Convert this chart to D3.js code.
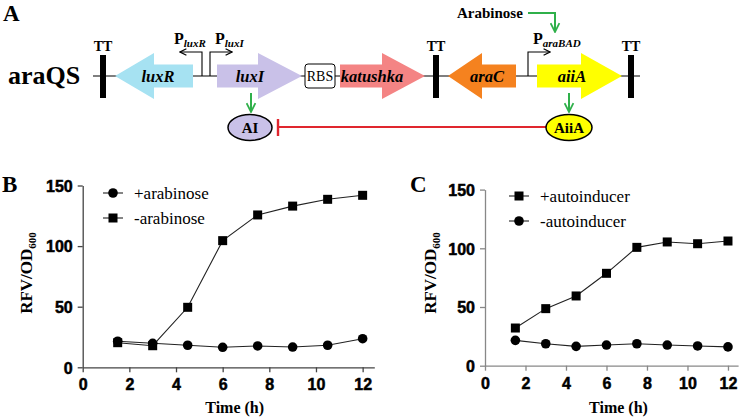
<!DOCTYPE html>
<html>
<head>
<meta charset="utf-8">
<script src="https://cdn.jsdelivr.net/npm/d3@7"></script>
<style>
  body { margin: 0; background: #fff; }
  svg { display: block; }
</style>
</head>
<body>
<div id="fig"></div>
<script>
// data
var times = [1.5, 3, 4.5, 6, 7.5, 9, 10.5, 12];
var plusArabinose = [21.5, 19.8, 18.2, 16.5, 17.6, 16.7, 18.2, 23.6];
var minusArabinose = [20.3, 17.8, 49.5, 104.5, 125.7, 133, 138.6, 141.9];
var plusAutoinducer = [32.1, 48.6, 59.4, 78.7, 100.8, 105.4, 103.9, 106.2];
var minusAutoinducer = [21.6, 18.7, 16.5, 17.6, 18.7, 17.6, 16.8, 16.0];
var xTicks = [0, 2, 4, 6, 8, 10, 12];
var yTicks = [0, 50, 100, 150];

var serif = "'Liberation Serif', 'Times New Roman', serif";
var sans = "'Liberation Sans', Arial, sans-serif";
var green = "#2fb04a";
var red = "#e0262e";

var svg = d3.select("#fig").append("svg")
  .attr("width", 750)
  .attr("height", 417);

// ---------- panel A: construct diagram ----------
var gA = svg.append("g");
var midY = 76;

gA.append("text").attr("x", 3).attr("y", 21)
  .style("font-family", serif).style("font-weight", "bold").style("font-size", "23px")
  .text("A");

gA.append("text").attr("x", 8).attr("y", 84)
  .style("font-family", serif).style("font-weight", "bold").style("font-size", "26px")
  .text("araQS");

// backbone
gA.append("line").attr("x1", 93).attr("x2", 640).attr("y1", midY).attr("y2", midY)
  .attr("stroke", "#000").attr("stroke-width", 1.2);

function genePath(tail, tip, headBase) {
  var p = d3.path();
  p.moveTo(tail, midY - 11.5);
  p.lineTo(headBase, midY - 11.5);
  p.lineTo(headBase, midY - 23);
  p.lineTo(tip, midY);
  p.lineTo(headBase, midY + 23);
  p.lineTo(headBase, midY + 11.5);
  p.lineTo(tail, midY + 11.5);
  p.closePath();
  return p.toString();
}

var genes = [
  {name: "luxR", tail: 193, tip: 115, head: 154, fill: "#a6e2f2", tx: 158},
  {name: "luxI", tail: 217, tip: 302, head: 258, fill: "#c9c1e8", tx: 250},
  {name: "katushka", tail: 340, tip: 425, head: 382, fill: "#f48484", tx: 372},
  {name: "araC", tail: 516, tip: 448, head: 482, fill: "#f5821f", tx: 487},
  {name: "aiiA", tail: 537, tip: 622, head: 581, fill: "#ffff00", tx: 572}
];

gA.selectAll("path.gene").data(genes).enter().append("path")
  .attr("class", "gene")
  .attr("d", function(d) { return genePath(d.tail, d.tip, d.head); })
  .attr("fill", function(d) { return d.fill; });

gA.selectAll("text.gene").data(genes).enter().append("text")
  .attr("class", "gene")
  .attr("x", function(d) { return d.tx; })
  .attr("y", midY + 5.5)
  .attr("text-anchor", "middle")
  .style("font-family", serif).style("font-weight", "bold").style("font-style", "italic")
  .style("font-size", "16.5px")
  .text(function(d) { return d.name; });

// RBS box
gA.append("rect").attr("x", 305).attr("y", 64).attr("width", 30).attr("height", 24)
  .attr("rx", 3).attr("fill", "#fff").attr("stroke", "#000").attr("stroke-width", 1);
gA.append("text").attr("x", 320).attr("y", 81).attr("text-anchor", "middle")
  .style("font-family", serif).style("font-size", "14px").text("RBS");

// terminators
[103, 436, 631].forEach(function(x) {
  gA.append("rect").attr("x", x - 3).attr("y", 55).attr("width", 6).attr("height", 43).attr("fill", "#000");
  gA.append("text").attr("x", x).attr("y", 51).attr("text-anchor", "middle")
    .style("font-family", serif).style("font-weight", "bold").style("font-size", "14px").text("TT");
});

// promoters
var defs = svg.append("defs");
function marker(id, color, w) {
  defs.append("marker").attr("id", id)
    .attr("viewBox", "0 0 10 10").attr("refX", 9).attr("refY", 5)
    .attr("markerWidth", w).attr("markerHeight", w).attr("orient", "auto")
    .attr("markerUnits", "userSpaceOnUse")
    .append("path").attr("d", "M1,1 L9,5 L1,9")
    .attr("fill", "none").attr("stroke", color).attr("stroke-width", 1.6);
}
marker("blk", "#000", 8);
marker("grn", green, 11);

var promoters = [
  {x: 202, dir: -1, len: 22, label: "luxR", lx: 174},
  {x: 210, dir: 1, len: 22, label: "luxI", lx: 215},
  {x: 528, dir: 1, len: 22, label: "araBAD", lx: 533}
];
promoters.forEach(function(p) {
  gA.append("path")
    .attr("d", "M" + p.x + "," + midY + " V52 H" + (p.x + p.dir * p.len))
    .attr("fill", "none").attr("stroke", "#000").attr("stroke-width", 1.1)
    .attr("marker-end", "url(#blk)");
  var t = gA.append("text").attr("x", p.lx).attr("y", 44)
    .style("font-family", serif).style("font-weight", "bold").style("font-size", "16px");
  t.append("tspan").text("P");
  t.append("tspan").attr("dy", 3).style("font-size", "11px").style("font-style", "italic").text(p.label);
});

// arabinose induction
gA.append("text").attr("x", 457).attr("y", 18)
  .style("font-family", serif).style("font-weight", "bold").style("font-size", "15px").text("Arabinose");
gA.append("path").attr("d", "M528,13 H555 V32")
  .attr("fill", "none").attr("stroke", green).attr("stroke-width", 2)
  .attr("marker-end", "url(#grn)");

// expression arrows
[{x: 251}, {x: 569}].forEach(function(a) {
  gA.append("line").attr("x1", a.x).attr("x2", a.x).attr("y1", 93).attr("y2", 112)
    .attr("stroke", green).attr("stroke-width", 2).attr("marker-end", "url(#grn)");
});

// inhibition
gA.append("line").attr("x1", 278).attr("x2", 546).attr("y1", 127).attr("y2", 127)
  .attr("stroke", red).attr("stroke-width", 2);
gA.append("line").attr("x1", 278).attr("x2", 278).attr("y1", 119).attr("y2", 136)
  .attr("stroke", red).attr("stroke-width", 2.4);

var proteins = [
  {name: "AI", cx: 250, rx: 22, fill: "#c9c1e8"},
  {name: "AiiA", cx: 569, rx: 23, fill: "#ffff00"}
];
proteins.forEach(function(p) {
  gA.append("ellipse").attr("cx", p.cx).attr("cy", 127.5).attr("rx", p.rx).attr("ry", 13)
    .attr("fill", p.fill).attr("stroke", "#000").attr("stroke-width", 1.5);
  gA.append("text").attr("x", p.cx).attr("y", 132.5).attr("text-anchor", "middle")
    .style("font-family", serif).style("font-weight", "bold").style("font-size", "15px").text(p.name);
});

// ---------- panels B and C: time courses ----------
function drawPanel(cfg) {
  var g = svg.append("g");
  var x = d3.scaleLinear().domain([0, 12.5]).range(cfg.xr);
  var y = d3.scaleLinear().domain([0, 150]).range(cfg.yr);

  g.append("text").attr("x", cfg.labelX).attr("y", 192)
    .style("font-family", serif).style("font-weight", "bold").style("font-size", "23px")
    .text(cfg.label);

  var xAxis = g.append("g").attr("transform", "translate(0," + cfg.yr[0] + ")")
    .call(d3.axisBottom(x).tickValues(xTicks).tickSize(5).tickPadding(6).tickSizeOuter(0));
  var yAxis = g.append("g").attr("transform", "translate(" + cfg.xr[0] + ",0)")
    .call(d3.axisLeft(y).tickValues(yTicks).tickSize(5).tickPadding(5).tickSizeOuter(0));
  [xAxis, yAxis].forEach(function(a) {
    a.select(".domain").attr("stroke", cfg.axisColor).attr("stroke-width", 1.3);
    a.selectAll(".tick line").attr("stroke", cfg.axisColor).attr("stroke-width", 1.3);
    // heavy bold digits like the original
    a.selectAll(".tick text").attr("fill", "#000")
      .attr("stroke", "#000").attr("stroke-width", 0.5)
      .style("font-family", sans).style("font-weight", "bold").style("font-size", "16px");
  });
  yAxis.selectAll(".tick text").attr("dy", "0.36em");
  xAxis.selectAll(".tick text").attr("dy", "0.76em");

  var yt = g.append("text")
    .attr("transform", "translate(" + cfg.yTitleX + ",273) rotate(-90)")
    .attr("text-anchor", "middle")
    .style("font-family", serif).style("font-weight", "bold").style("font-size", "17px");
  yt.append("tspan").text("RFV/OD");
  yt.append("tspan").attr("dy", 4).style("font-size", "11px").text("600");

  g.append("text").attr("x", (x(0) + x(12)) / 2 + 12).attr("y", 413).attr("text-anchor", "middle")
    .style("font-family", serif).style("font-weight", "bold").style("font-size", "16px")
    .text("Time (h)");

  var line = d3.line().x(function(d) { return x(d[0]); }).y(function(d) { return y(d[1]); });

  cfg.series.forEach(function(s) {
    var pts = times.map(function(t, i) { return [t, s.values[i]]; });
    g.append("path").attr("d", line(pts)).attr("fill", "none")
      .attr("stroke", "#222").attr("stroke-width", 1.1);
    drawMarkers(g, pts.map(function(p) { return [x(p[0]), y(p[1])]; }), s.shape);
  });

  // legend
  cfg.series.forEach(function(s, i) {
    var ly = cfg.legendY + i * 25;
    g.append("line").attr("x1", cfg.legendX - 10).attr("x2", cfg.legendX + 10)
      .attr("y1", ly).attr("y2", ly).attr("stroke", "#222").attr("stroke-width", 1.1);
    drawMarkers(g, [[cfg.legendX, ly]], s.shape);
    g.append("text").attr("x", cfg.legendX + 21).attr("y", ly + 5.5)
      .style("font-family", serif).style("font-size", "17px").text(s.name);
  });
}

function drawMarkers(g, pts, shape) {
  if (shape === "square") {
    g.selectAll(null).data(pts).enter().append("rect")
      .attr("x", function(d) { return d[0] - 4.5; })
      .attr("y", function(d) { return d[1] - 4.5; })
      .attr("width", 9).attr("height", 9).attr("fill", "#000");
  } else {
    g.selectAll(null).data(pts).enter().append("circle")
      .attr("cx", function(d) { return d[0]; })
      .attr("cy", function(d) { return d[1]; })
      .attr("r", 4.8).attr("fill", "#000");
  }
}

drawPanel({
  label: "B", labelX: 2,
  xr: [82.7, 374.3], yr: [367.3, 185.5],
  axisColor: "#444", yTitleX: 32,
  legendX: 113, legendY: 193,
  series: [
    {name: "+arabinose", values: plusArabinose, shape: "circle"},
    {name: "-arabinose", values: minusArabinose, shape: "square"}
  ]
});

drawPanel({
  label: "C", labelX: 410,
  xr: [485, 738.1], yr: [365.7, 189.6],
  axisColor: "#888", yTitleX: 436,
  legendX: 519, legendY: 196,
  series: [
    {name: "+autoinducer", values: plusAutoinducer, shape: "square"},
    {name: "-autoinducer", values: minusAutoinducer, shape: "circle"}
  ]
});
</script>
</body>
</html>
